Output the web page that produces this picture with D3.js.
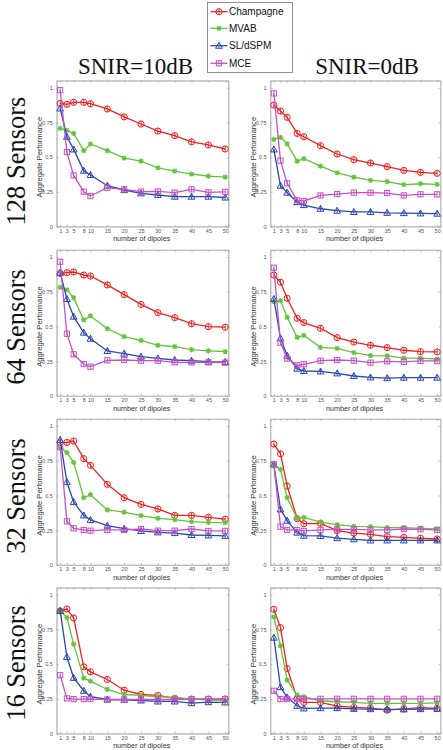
<!DOCTYPE html>
<html><head><meta charset="utf-8">
<script src="https://cdn.jsdelivr.net/npm/d3@7"></script>
<style>body{margin:0;background:#fff}svg{display:block}</style>
</head><body>
<svg id="c" width="443" height="750"></svg>
<script>
const dipoles = [1,3,5,8,10,15,20,25,30,35,40,45,50];
const xTickValues = [1,3,5,8,10,15,20,25,30,35,40,45,50];
const yTickValues = [0,0.25,0.5,0.75,1];
const yTickLabels = ["0","0.25","0.5","0.75","1"];
const rowLabels = ["128 Sensors","64 Sensors","32 Sensors","16 Sensors"];
const colTitles = ["SNIR=10dB","SNIR=0dB"];
const methods = ["Champagne","MVAB","SL/dSPM","MCE"];

// 128 sensors
const champ128_10 = [0.887,0.88,0.895,0.895,0.885,0.847,0.79,0.739,0.688,0.655,0.61,0.588,0.559];
const mvab128_10  = [0.707,0.693,0.671,0.547,0.595,0.547,0.494,0.472,0.424,0.40,0.379,0.364,0.357];
const sl128_10    = [0.851,0.647,0.556,0.403,0.372,0.295,0.264,0.24,0.228,0.216,0.216,0.216,0.21];
const mce128_10   = [0.983,0.537,0.369,0.252,0.22,0.28,0.269,0.252,0.254,0.245,0.269,0.247,0.25];
const champ128_0  = [0.875,0.832,0.787,0.671,0.647,0.583,0.523,0.482,0.458,0.432,0.405,0.391,0.384];
const mvab128_0   = [0.628,0.643,0.595,0.472,0.489,0.436,0.388,0.357,0.333,0.324,0.302,0.309,0.305];
const sl128_0     = [0.556,0.295,0.245,0.177,0.156,0.129,0.115,0.106,0.106,0.10,0.098,0.096,0.094];
const mce128_0    = [0.959,0.475,0.312,0.19,0.185,0.225,0.235,0.245,0.245,0.242,0.225,0.233,0.233];
// 64 sensors
const champ64_10 = [0.882,0.887,0.892,0.87,0.863,0.799,0.729,0.659,0.60,0.564,0.52,0.499,0.495];
const mvab64_10  = [0.782,0.763,0.707,0.547,0.576,0.484,0.427,0.40,0.365,0.355,0.333,0.324,0.32];
const sl64_10    = [0.887,0.698,0.571,0.456,0.412,0.324,0.305,0.283,0.271,0.259,0.254,0.247,0.245];
const mce64_10   = [0.966,0.448,0.30,0.23,0.211,0.257,0.259,0.254,0.254,0.242,0.242,0.242,0.24];
const champ64_0  = [0.87,0.818,0.703,0.559,0.528,0.487,0.42,0.388,0.365,0.348,0.329,0.319,0.317];
const mvab64_0   = [0.679,0.686,0.566,0.422,0.436,0.35,0.343,0.312,0.29,0.288,0.273,0.273,0.266];
const sl64_0     = [0.698,0.415,0.29,0.197,0.18,0.177,0.163,0.144,0.134,0.129,0.132,0.132,0.132];
const mce64_0    = [0.923,0.384,0.269,0.221,0.228,0.254,0.259,0.254,0.24,0.249,0.245,0.252,0.252];
// 32 sensors
const champ32_10 = [0.88,0.882,0.892,0.765,0.717,0.58,0.484,0.436,0.403,0.357,0.357,0.343,0.33];
const mvab32_10  = [0.851,0.808,0.739,0.484,0.506,0.396,0.381,0.355,0.336,0.326,0.312,0.307,0.305];
const sl32_10    = [0.90,0.597,0.453,0.357,0.324,0.283,0.261,0.245,0.235,0.23,0.216,0.213,0.21];
const mce32_10   = [0.847,0.314,0.264,0.252,0.247,0.252,0.252,0.259,0.247,0.247,0.259,0.245,0.245];
const champ32_0  = [0.87,0.80,0.568,0.333,0.297,0.30,0.247,0.23,0.221,0.204,0.199,0.192,0.187];
const mvab32_0   = [0.719,0.688,0.484,0.336,0.343,0.309,0.29,0.278,0.276,0.269,0.269,0.264,0.259];
const sl32_0     = [0.724,0.40,0.319,0.233,0.211,0.209,0.194,0.185,0.177,0.177,0.177,0.177,0.177];
const mce32_0    = [0.724,0.276,0.252,0.252,0.245,0.252,0.257,0.257,0.252,0.252,0.259,0.257,0.252];
// 16 sensors
const champ16_10 = [0.883,0.897,0.833,0.481,0.445,0.39,0.313,0.282,0.275,0.254,0.249,0.249,0.25];
const mvab16_10  = [0.883,0.835,0.644,0.40,0.378,0.318,0.282,0.275,0.266,0.261,0.251,0.242,0.24];
const sl16_10    = [0.883,0.553,0.402,0.309,0.266,0.246,0.244,0.239,0.232,0.232,0.22,0.227,0.225];
const mce16_10   = [0.421,0.254,0.249,0.249,0.249,0.246,0.246,0.246,0.246,0.246,0.249,0.249,0.248];
const champ16_0  = [0.895,0.763,0.469,0.254,0.225,0.225,0.199,0.189,0.184,0.17,0.179,0.187,0.182];
const mvab16_0   = [0.84,0.634,0.385,0.278,0.266,0.237,0.23,0.225,0.218,0.218,0.218,0.218,0.222];
const sl16_0     = [0.691,0.335,0.261,0.201,0.182,0.184,0.184,0.179,0.177,0.175,0.175,0.177,0.179];
const mce16_0    = [0.309,0.249,0.249,0.249,0.251,0.251,0.251,0.251,0.251,0.251,0.251,0.251,0.251];

const panels = [
  [[champ128_10,mvab128_10,sl128_10,mce128_10],[champ128_0,mvab128_0,sl128_0,mce128_0]],
  [[champ64_10,mvab64_10,sl64_10,mce64_10],[champ64_0,mvab64_0,sl64_0,mce64_0]],
  [[champ32_10,mvab32_10,sl32_10,mce32_10],[champ32_0,mvab32_0,sl32_0,mce32_0]],
  [[champ16_10,mvab16_10,sl16_10,mce16_10],[champ16_0,mvab16_0,sl16_0,mce16_0]]
];

const colors = ["#ee2020","#62c43a","#2a48b0","#c452c4"];
const svg = d3.select("#c");
const sans = "'Liberation Sans', Arial, sans-serif";
const serif = "'Liberation Serif', 'DejaVu Serif', serif";

const colX = [[56.8,228.6],[270.5,440.5]];
const rowY0 = [226.7,396,565,733.7];
const unitH = 139;

function marker(g, type, cx, cy, color) {
  if (type === 0) {
    g.append("circle").attr("cx",cx).attr("cy",cy).attr("r",3.1)
      .attr("fill","none").attr("stroke",color).attr("stroke-width",1);
    g.append("line").attr("x1",cx).attr("x2",cx).attr("y1",cy-3.1).attr("y2",cy+3.1)
      .attr("stroke",color).attr("stroke-width",0.8);
  } else if (type === 1) {
    const s = 2.6;
    const p = `M${cx-s},${cy}L${cx+s},${cy}M${cx},${cy-s}L${cx},${cy+s}M${cx-s*0.75},${cy-s*0.75}L${cx+s*0.75},${cy+s*0.75}M${cx-s*0.75},${cy+s*0.75}L${cx+s*0.75},${cy-s*0.75}`;
    g.append("path").attr("d",p).attr("stroke",color).attr("stroke-width",1.2).attr("fill","none");
  } else if (type === 2) {
    const s = 3.4;
    g.append("path").attr("d",`M${cx},${cy-s}L${cx+s},${cy+s*0.75}L${cx-s},${cy+s*0.75}Z`)
      .attr("fill","none").attr("stroke",color).attr("stroke-width",1);
    g.append("line").attr("x1",cx).attr("x2",cx).attr("y1",cy-s).attr("y2",cy+s*0.75)
      .attr("stroke",color).attr("stroke-width",0.8);
  } else {
    const s = 2.6;
    g.append("rect").attr("x",cx-s).attr("y",cy-s).attr("width",2*s).attr("height",2*s)
      .attr("fill","none").attr("stroke",color).attr("stroke-width",1);
    g.append("line").attr("x1",cx).attr("x2",cx).attr("y1",cy-s).attr("y2",cy+s)
      .attr("stroke",color).attr("stroke-width",0.8);
  }
}

panels.forEach((row, ri) => {
  row.forEach((series, ci) => {
    const x = d3.scaleLinear().domain([0,51]).range(colX[ci]);
    const y = d3.scaleLinear().domain([0,1.05]).range([rowY0[ri], rowY0[ri]-1.05*unitH]);
    const g = svg.append("g");
    const [x0,x1] = colX[ci];
    const yb = y(0), yt = y(1.05);
    g.append("rect").attr("x",x0).attr("y",yt).attr("width",x1-x0).attr("height",yb-yt)
      .attr("fill","none").attr("stroke","#b8b8b8").attr("stroke-width",0.8);
    const xa = g.append("g").attr("transform",`translate(0,${yb})`)
      .call(d3.axisBottom(x).tickValues(xTickValues).tickSize(-2).tickPadding(2));
    const xt = g.append("g").attr("transform",`translate(0,${yt})`)
      .call(d3.axisTop(x).tickValues(xTickValues).tickSize(-2).tickFormat(""));
    const ya = g.append("g").attr("transform",`translate(${x0},0)`)
      .call(d3.axisLeft(y).tickValues(yTickValues).tickSize(-2).tickPadding(4)
        .tickFormat((d,i)=>yTickLabels[i]));
    const yr = g.append("g").attr("transform",`translate(${x1},0)`)
      .call(d3.axisRight(y).tickValues(yTickValues).tickSize(-2).tickFormat(""));
    [xa,xt,ya,yr].forEach(a=>{
      a.select(".domain").attr("stroke","#b8b8b8").attr("stroke-width",0.8);
      a.selectAll(".tick line").attr("stroke","#999").attr("stroke-width",0.6);
      a.selectAll("text").attr("fill","#555").attr("font-family",sans).attr("font-size",5.5);
    });
    g.append("text").attr("x",(x0+x1)/2 - 1).attr("y",yb+14.5).attr("text-anchor","middle")
      .attr("font-family",sans).attr("font-size",7.2).attr("fill","#333").text("number of dipoles");
    g.append("text").attr("transform",`translate(${x0-15},${y(0.5)}) rotate(-90)`)
      .attr("text-anchor","middle").attr("font-family",sans).attr("font-size",7.6)
      .attr("fill","#333").text("Aggregate Performance");
    const line = d3.line().x((d,i)=>x(dipoles[i])).y(d=>y(d));
    series.forEach((vals, si) => {
      g.append("path").attr("d",line(vals)).attr("fill","none")
        .attr("stroke",colors[si]).attr("stroke-width",1.3);
      vals.forEach((v,i)=>marker(g, si, x(dipoles[i]), y(v), colors[si]));
    });
  });
});

const titleX = [135.5, 367];
colTitles.forEach((t,i)=>{
  svg.append("text").attr("x",titleX[i]).attr("y",74).attr("text-anchor","middle")
    .attr("font-family",serif).attr("font-size",23).attr("fill","#111").text(t);
});
const rowCenters = [161, 327, 496, 663];
rowLabels.forEach((t,i)=>{
  svg.append("text").attr("transform",`translate(25,${rowCenters[i]}) rotate(-90)`)
    .attr("text-anchor","middle").attr("font-family",serif).attr("font-size",26.5)
    .attr("fill","#111").text(t);
});
const lg = svg.append("g");
lg.append("rect").attr("x",207.5).attr("y",2.5).attr("width",85).attr("height",70)
  .attr("fill","#fff").attr("stroke","#777").attr("stroke-width",0.8);
const legY = [11.7,28.3,45.7,63.3];
methods.forEach((m,i)=>{
  lg.append("line").attr("x1",210.5).attr("x2",227.5).attr("y1",legY[i]).attr("y2",legY[i])
    .attr("stroke",colors[i]).attr("stroke-width",1.3);
  marker(lg, i, 219, legY[i], colors[i]);
  lg.append("text").attr("x",229).attr("y",legY[i]).attr("dy","0.35em")
    .attr("font-family",sans).attr("font-size",10).attr("fill","#111").text(m);
});
</script>
</body></html>
